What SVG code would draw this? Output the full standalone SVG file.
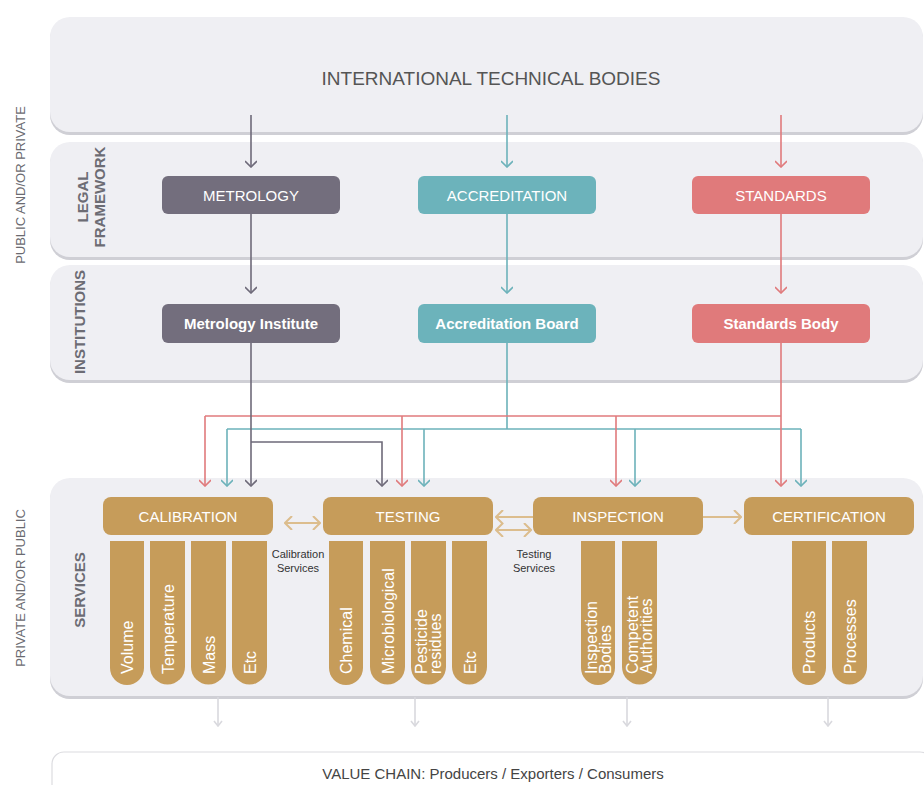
<svg xmlns="http://www.w3.org/2000/svg" width="924" height="785" viewBox="0 0 924 785">
<defs>
<style>
text{font-family:"Liberation Sans",Arial,sans-serif}
.panel{fill:#efeff3}
.shadow{fill:#cfcfd5}
.side{font-size:13px;fill:#6a6a70}
.sect{font-size:15px;font-weight:bold;fill:#6c6c74}
.boxt{font-size:15px;fill:#fff;text-anchor:middle}
.inst{font-size:15px;font-weight:bold;fill:#fff;text-anchor:middle}
.col{font-size:16px;fill:#fff;text-anchor:start}
.gold{fill:#c69c5a}
.small{font-size:11px;fill:#333;text-anchor:middle}
.ln{fill:none;stroke-width:1.6}
.g{stroke:#6e6a79}
.t{stroke:#6cb2ba}
.r{stroke:#e07a7c}
.ga{stroke:#dcbd8d;stroke-width:2;fill:none}
.la{stroke:#d9d9de;stroke-width:1.6;fill:none}
</style>
<marker id="mg" viewBox="0 0 12 12" refX="11" refY="6" markerWidth="12" markerHeight="12" markerUnits="userSpaceOnUse" orient="auto"><path d="M5,0 L11,6 L5,12" fill="none" stroke="#6e6a79" stroke-width="1.6"/></marker>
<marker id="mt" viewBox="0 0 12 12" refX="11" refY="6" markerWidth="12" markerHeight="12" markerUnits="userSpaceOnUse" orient="auto"><path d="M5,0 L11,6 L5,12" fill="none" stroke="#6cb2ba" stroke-width="1.6"/></marker>
<marker id="mr" viewBox="0 0 12 12" refX="11" refY="6" markerWidth="12" markerHeight="12" markerUnits="userSpaceOnUse" orient="auto"><path d="M5,0 L11,6 L5,12" fill="none" stroke="#e07a7c" stroke-width="1.6"/></marker>
<marker id="mo" viewBox="0 0 14 14" refX="13" refY="7" markerWidth="14" markerHeight="14" markerUnits="userSpaceOnUse" orient="auto-start-reverse"><path d="M6,0 L13,7 L6,14" fill="none" stroke="#dcbd8d" stroke-width="2"/></marker>
<marker id="ml" viewBox="0 0 10 10" refX="9" refY="5" markerWidth="10" markerHeight="10" markerUnits="userSpaceOnUse" orient="auto"><path d="M4,1 L9,5 L4,9" fill="none" stroke="#d9d9de" stroke-width="1.6"/></marker>
</defs>
<rect width="924" height="785" fill="#fff"/>

<g id="panels">
<rect class="shadow" x="50" y="19" width="873" height="116" rx="20"/>
<rect class="panel" x="50" y="17" width="873" height="115" rx="20"/>
<rect class="shadow" x="50" y="144" width="873" height="116" rx="20"/>
<rect class="panel" x="50" y="142" width="873" height="115" rx="20"/>
<rect class="shadow" x="50" y="267" width="873" height="116" rx="20"/>
<rect class="panel" x="50" y="265" width="873" height="115" rx="20"/>
<rect class="shadow" x="50" y="480" width="873" height="219" rx="20"/>
<rect class="panel" x="50" y="478" width="873" height="218" rx="20"/>
<rect x="52" y="752" width="880" height="60" rx="12" fill="#fff" stroke="#dcdce0" stroke-width="1.2"/>
</g>

<g id="labels">
<text class="side" transform="translate(25,185) rotate(-90)" text-anchor="middle">PUBLIC AND/OR PRIVATE</text>
<text class="side" transform="translate(25,588) rotate(-90)" text-anchor="middle">PRIVATE AND/OR PUBLIC</text>
<text class="sect" transform="translate(88,197) rotate(-90)" text-anchor="middle">LEGAL</text>
<text class="sect" transform="translate(105,197) rotate(-90)" text-anchor="middle">FRAMEWORK</text>
<text class="sect" transform="translate(85,322) rotate(-90)" text-anchor="middle">INSTITUTIONS</text>
<text class="sect" transform="translate(85,590) rotate(-90)" text-anchor="middle">SERVICES</text>
</g>

<g id="intl">
<text x="491" y="85" font-size="19" fill="#555" text-anchor="middle">INTERNATIONAL TECHNICAL BODIES</text>
</g>

<g id="connectors">
<path class="ln g" d="M251,115 V167" marker-end="url(#mg)"/>
<path class="ln t" d="M507,115 V167" marker-end="url(#mt)"/>
<path class="ln r" d="M781,115 V167" marker-end="url(#mr)"/>
<path class="ln g" d="M251,214 V293" marker-end="url(#mg)"/>
<path class="ln t" d="M507,214 V293" marker-end="url(#mt)"/>
<path class="ln r" d="M781,214 V293" marker-end="url(#mr)"/>
<path class="ln t" d="M507,343 V429 M227,429 H801"/>
<path class="ln t" d="M227,429 V486" marker-end="url(#mt)"/>
<path class="ln t" d="M424,429 V486" marker-end="url(#mt)"/>
<path class="ln t" d="M635,429 V486" marker-end="url(#mt)"/>
<path class="ln t" d="M801,429 V486" marker-end="url(#mt)"/>
<path class="ln r" d="M781,416 H205"/>
<path class="ln r" d="M205,416 V486" marker-end="url(#mr)"/>
<path class="ln r" d="M402,416 V486" marker-end="url(#mr)"/>
<path class="ln r" d="M616,416 V486" marker-end="url(#mr)"/>
<path class="ln r" d="M781,343 V486" marker-end="url(#mr)"/>
<path class="ln g" d="M251,343 V486" marker-end="url(#mg)"/>
<path class="ln g" d="M251,442 H382 V486" marker-end="url(#mg)"/>
<path class="ga" d="M285,523 H320" marker-start="url(#mo)" marker-end="url(#mo)"/>
<path class="ga" d="M533,517 H496" marker-end="url(#mo)"/>
<path class="ga" d="M496,530 H531" marker-start="url(#mo)" marker-end="url(#mo)"/>
<path class="ga" d="M703,517 H741" marker-end="url(#mo)"/>
<path class="la" d="M218,697 V726" marker-end="url(#ml)"/>
<path class="la" d="M415,697 V726" marker-end="url(#ml)"/>
<path class="la" d="M627,697 V726" marker-end="url(#ml)"/>
<path class="la" d="M828,697 V726" marker-end="url(#ml)"/>
<text class="small" x="298" y="558">Calibration</text>
<text class="small" x="298" y="572">Services</text>
<text class="small" x="534" y="558">Testing</text>
<text class="small" x="534" y="572">Services</text>
</g>

<g id="metrology"><rect x="162" y="176" width="178" height="38" rx="6" fill="#736e7d"/><text class="boxt" x="251" y="200.5">METROLOGY</text></g>
<g id="accreditation"><rect x="418" y="176" width="178" height="38" rx="6" fill="#6cb3bb"/><text class="boxt" x="507" y="200.5">ACCREDITATION</text></g>
<g id="standards"><rect x="692" y="176" width="178" height="38" rx="6" fill="#e07a7b"/><text class="boxt" x="781" y="200.5">STANDARDS</text></g>

<g id="metrology-institute"><rect x="162" y="304" width="178" height="39" rx="6" fill="#736e7d"/><text class="inst" x="251" y="329">Metrology Institute</text></g>
<g id="accreditation-board"><rect x="418" y="304" width="178" height="39" rx="6" fill="#6cb3bb"/><text class="inst" x="507" y="329">Accreditation Board</text></g>
<g id="standards-body"><rect x="692" y="304" width="178" height="39" rx="6" fill="#e07a7b"/><text class="inst" x="781" y="329">Standards Body</text></g>

<g id="calibration">
<rect class="gold" x="103" y="497" width="170" height="38" rx="8"/>
<text class="boxt" x="188" y="522">CALIBRATION</text>
<path class="gold" d="M110,541 H144 V668 A17,17 0 0 1 110,668 Z"/>
<path class="gold" d="M150,541 H185 V667 A17.5,17.5 0 0 1 150,667 Z"/>
<path class="gold" d="M191,541 H226 V667 A17.5,17.5 0 0 1 191,667 Z"/>
<path class="gold" d="M232,541 H267 V667 A17.5,17.5 0 0 1 232,667 Z"/>
<text class="col" transform="translate(133,674) rotate(-90)">Volume</text>
<text class="col" transform="translate(173.5,674) rotate(-90)">Temperature</text>
<text class="col" transform="translate(214.5,674) rotate(-90)">Mass</text>
<text class="col" transform="translate(255.5,674) rotate(-90)">Etc</text>
</g>

<g id="testing">
<rect class="gold" x="323" y="497" width="170" height="38" rx="8"/>
<text class="boxt" x="408" y="522">TESTING</text>
<path class="gold" d="M329,541 H363 V668 A17,17 0 0 1 329,668 Z"/>
<path class="gold" d="M370,541 H405 V667 A17.5,17.5 0 0 1 370,667 Z"/>
<path class="gold" d="M411,541 H446 V667 A17.5,17.5 0 0 1 411,667 Z"/>
<path class="gold" d="M452,541 H487 V667 A17.5,17.5 0 0 1 452,667 Z"/>
<text class="col" transform="translate(352,674) rotate(-90)">Chemical</text>
<text class="col" transform="translate(393.5,674) rotate(-90)">Microbiological</text>
<text class="col" transform="translate(427,674) rotate(-90)">Pesticide</text>
<text class="col" transform="translate(441,674) rotate(-90)">residues</text>
<text class="col" transform="translate(475.5,674) rotate(-90)">Etc</text>
</g>

<g id="inspection">
<rect class="gold" x="533" y="497" width="170" height="38" rx="8"/>
<text class="boxt" x="618" y="522">INSPECTION</text>
<path class="gold" d="M581,541 H615 V668 A17,17 0 0 1 581,668 Z"/>
<path class="gold" d="M622,541 H657 V667 A17.5,17.5 0 0 1 622,667 Z"/>
<text class="col" transform="translate(597,674) rotate(-90)">Inspection</text>
<text class="col" transform="translate(611,674) rotate(-90)">Bodies</text>
<text class="col" transform="translate(638,674) rotate(-90)">Competent</text>
<text class="col" transform="translate(652,674) rotate(-90)">Authorities</text>
</g>

<g id="certification">
<rect class="gold" x="744" y="497" width="170" height="38" rx="8"/>
<text class="boxt" x="829" y="522">CERTIFICATION</text>
<path class="gold" d="M792,541 H826 V668 A17,17 0 0 1 792,668 Z"/>
<path class="gold" d="M832,541 H867 V667 A17.5,17.5 0 0 1 832,667 Z"/>
<text class="col" transform="translate(815,674) rotate(-90)">Products</text>
<text class="col" transform="translate(855.5,674) rotate(-90)">Processes</text>
</g>

<g id="value-chain">
<text x="493" y="779" font-size="15" fill="#444" text-anchor="middle">VALUE CHAIN: Producers / Exporters / Consumers</text>
</g>
</svg>
